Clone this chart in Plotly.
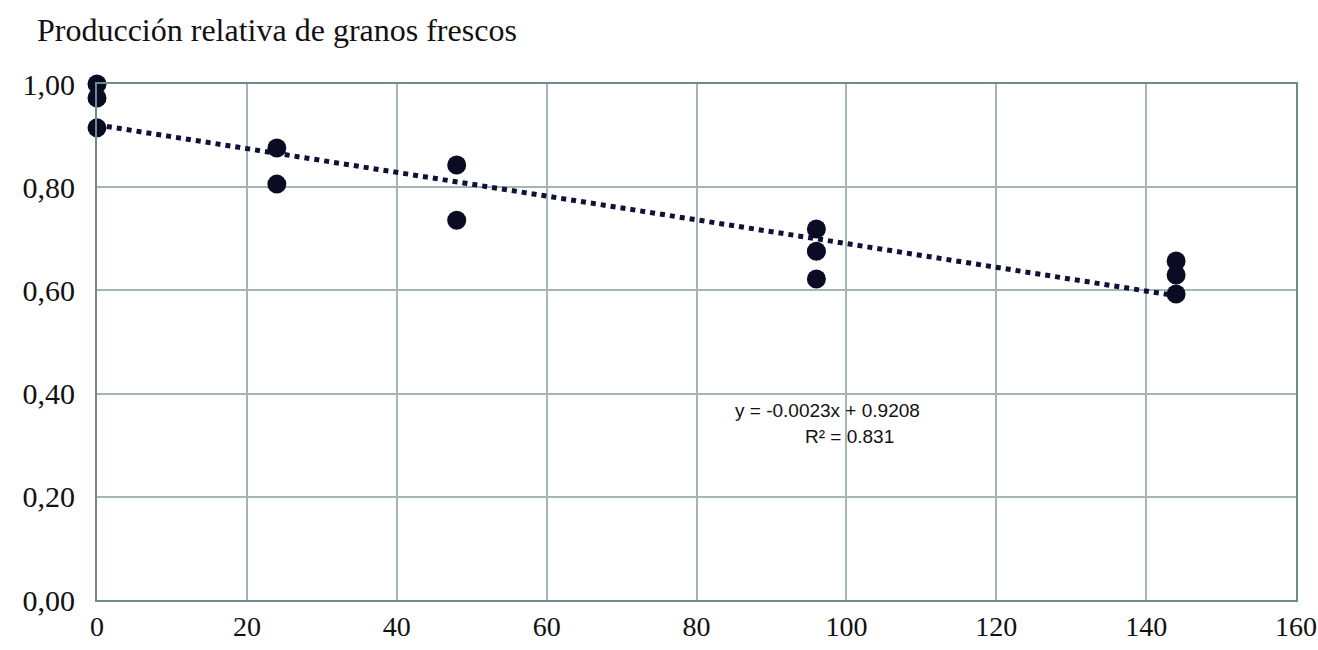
import plotly.graph_objects as go

# Data
hours = [0, 0, 0, 24, 24, 48, 48, 96, 96, 96, 144, 144, 144]
rel_yield = [1.00, 0.973, 0.915, 0.876, 0.806, 0.843, 0.736, 0.719, 0.676, 0.622, 0.657, 0.630, 0.593]
slope = -0.0023
intercept = 0.9208
r2 = 0.831
trend_x = [0, 144]
x_ticks = [0, 20, 40, 60, 80, 100, 120, 140, 160]
y_ticks = [0, 0.2, 0.4, 0.6, 0.8, 1.0]

trend_y = [slope * x + intercept for x in trend_x]

SERIF = "Liberation Serif, Times New Roman, serif"
SANS = "Liberation Sans, Arial, sans-serif"

fig = go.Figure()
fig.add_trace(go.Scatter(
    x=trend_x, y=trend_y, mode="lines",
    line=dict(color="#10103a", width=5, dash="dot"),
    showlegend=False, hoverinfo="skip", cliponaxis=False))
fig.add_trace(go.Scatter(
    x=hours, y=rel_yield, mode="markers",
    marker=dict(color="#0b0b24", size=19),
    showlegend=False, cliponaxis=False))

fig.add_annotation(x=97.5, y=0.368, xref="x", yref="y",
                   text=f"y = {slope:.4f}x + {intercept:.4f}", showarrow=False,
                   font=dict(family=SANS, size=19, color="#111111"))
fig.add_annotation(x=100.4, y=0.316, xref="x", yref="y",
                   text=f"R² = {r2:.3f}", showarrow=False,
                   font=dict(family=SANS, size=19, color="#111111"))

fig.add_annotation(xref="x domain", yref="y domain", x=-0.052, y=1.105,
                   showarrow=False,
                   text="Producción relativa de granos frescos",
                   xanchor="left", yanchor="middle",
                   font=dict(family=SERIF, size=32, color="#111111"))

fig.update_xaxes(range=[0, 160], tickvals=x_ticks, ticks="", showgrid=True,
                 gridcolor="#a3b5b5", gridwidth=1.5, zeroline=False,
                 showline=True, linecolor="#6f8a8a", linewidth=2, mirror=True,
                 ticklabeloverflow="allow",
                 tickfont=dict(family=SERIF, size=28, color="#111111"))
fig.update_yaxes(range=[0, 1.0], tickvals=y_ticks, tickformat=".2f", ticks="",
                 showgrid=True, gridcolor="#a3b5b5", gridwidth=1.5, zeroline=False,
                 showline=True, linecolor="#6f8a8a", linewidth=2, mirror=True,
                 ticklabelstandoff=14, ticklabeloverflow="allow",
                 tickfont=dict(family=SERIF, size=30, color="#111111"))

fig.update_layout(
    width=1318, height=650,
    margin=dict(l=97, r=22, t=84, b=50, autoexpand=False),
    plot_bgcolor="white", paper_bgcolor="white",
    separators=",.",
)

fig.write_html("out.html", config={"displayModeBar": False},
               post_script="document.body.style.margin='0';document.body.style.overflow='hidden';")
